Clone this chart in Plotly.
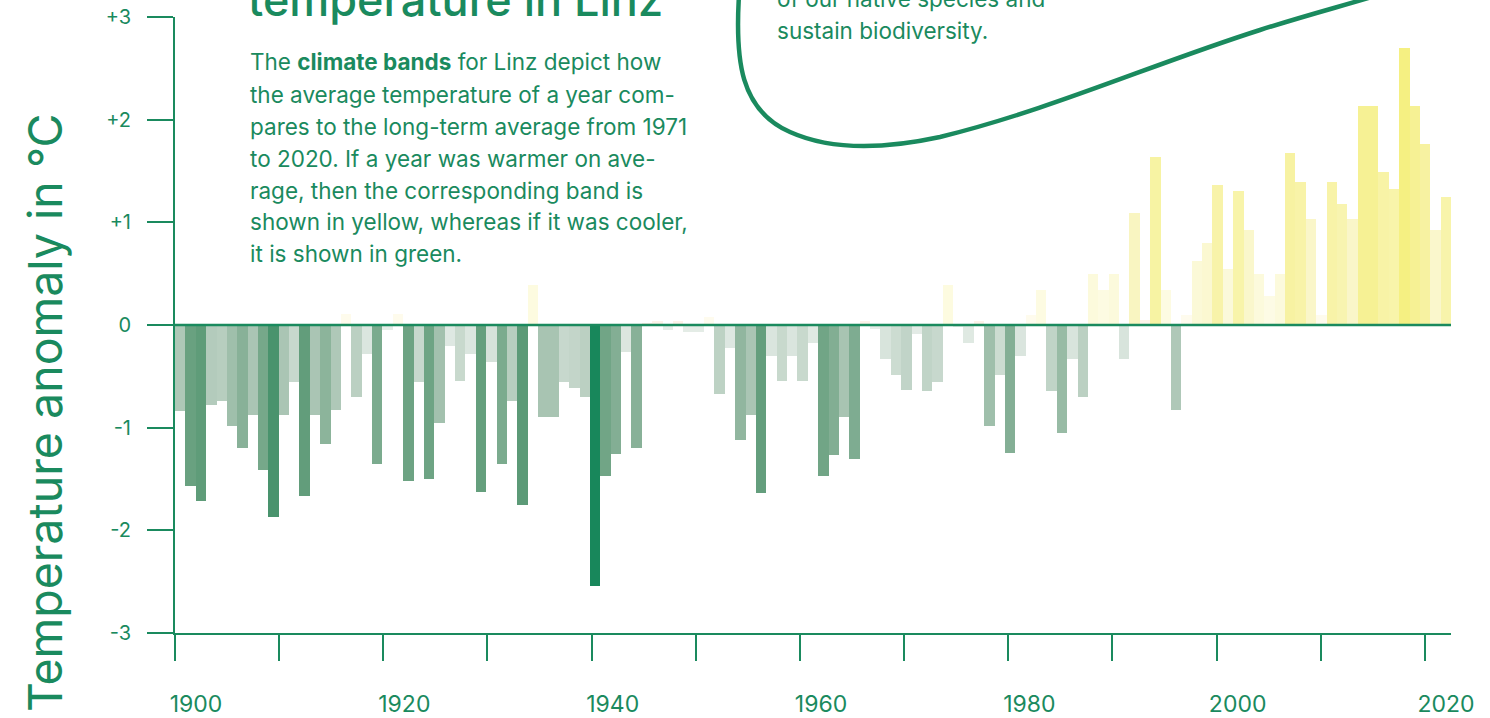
import plotly.graph_objects as go

# ---------------- data ----------------
years = list(range(1900, 2023))
anomaly = [
    -0.84, -1.57, -1.71, -0.78, -0.74, -0.98, -1.20, -0.88, -1.41, -1.87,   # 1900-1909
    -0.88, -0.56, -1.67, -0.88, -1.16, -0.83, 0.11, -0.70, -0.28, -1.35,    # 1910-1919
    -0.05, 0.11, -1.52, -0.56, -1.50, -0.95, -0.20, -0.55, -0.28, -1.63,    # 1920-1929
    -0.36, -1.35, -0.74, -1.75, 0.39, -0.90, -0.90, -0.56, -0.61, -0.70,    # 1930-1939
    -2.54, -1.47, -1.26, -0.26, -1.20, 0.02, 0.04, -0.05, 0.04, -0.07,      # 1940-1949
    -0.07, 0.08, -0.67, -0.22, -1.12, -0.88, -1.64, -0.30, -0.55, -0.30,    # 1950-1959
    -0.55, -0.18, -1.47, -1.27, -0.90, -1.31, 0.04, -0.04, -0.33, -0.49,    # 1960-1969
    -0.63, -0.09, -0.64, -0.56, 0.39, -0.02, -0.18, 0.04, -0.98, -0.49,     # 1970-1979
    -1.25, -0.30, 0.10, 0.34, -0.64, -1.05, -0.33, -0.70, 0.50, 0.34,       # 1980-1989
    0.50, -0.33, 1.09, 0.045, 1.64, 0.34, -0.83, 0.10, 0.62, 0.80,          # 1990-1999
    1.36, 0.55, 1.31, 0.93, 0.50, 0.28, 0.50, 1.68, 1.39, 1.03,             # 2000-2009
    0.10, 1.39, 1.18, 1.03, 2.13, 2.13, 1.49, 1.32, 2.70, 2.13,             # 2010-2019
    1.76, 0.93, 1.25,                                                        # 2020-2022
]
tick_years = list(range(1900, 2021, 10))
tick_labels = ["1900", "", "1920", "", "1940", "", "1960", "", "1980", "", "2000", "", "2020"]
y_ticks = [-3, -2, -1, 0, 1, 2, 3]
y_tick_labels = ["-3", "-2", "-1", "0", "+1", "+2", "+3"]

paragraph_lines = [
    "The <b>climate bands</b> for Linz depict how",
    "the average temperature of a year com-",
    "pares to the long-term average from 1971",
    "to 2020. If a year was warmer on ave-",
    "rage, then the corresponding band is",
    "shown in yellow, whereas if it was cooler,",
    "it is shown in green.",
]
bubble_lines = ["of our native species and", "sustain biodiversity."]
title_text = "temperature in Linz"
y_title = "Temperature anomaly in °C"

# ---------------- style ----------------
GREEN = "#1a8a5e"
FONT = "Inter"
W, H = 1490, 718
ML, MR, MT, MB = 175, 39, 17, 85
PW, PH = W - ML - MR, H - MT - MB

def px_x(px):
    return (px - ML) / PW

def px_y(py):
    return (H - MB - py) / PH

# diverging colour scale (value -> rgb)
cmin, cmax = -2.55, 2.70
stops = [
    (-2.55, (23, 135, 91)),
    (-1.90, (68, 145, 107)),
    (-1.75, (92, 154, 119)),
    (-1.50, (110, 164, 132)),
    (-1.20, (136, 177, 152)),
    (-0.90, (168, 196, 178)),
    (-0.60, (196, 214, 202)),
    (-0.30, (218, 229, 222)),
    (-0.001, (231, 238, 233)),
    (0.0, (251, 230, 226)),
    (0.07, (254, 251, 238)),
    (0.35, (253, 251, 226)),
    (0.60, (251, 249, 216)),
    (1.05, (250, 246, 200)),
    (1.20, (248, 244, 172)),
    (1.80, (247, 242, 160)),
    (2.13, (246, 241, 148)),
    (2.70, (245, 240, 130)),
]
colorscale = [[(v - cmin) / (cmax - cmin), "rgb(%d,%d,%d)" % c] for v, c in stops]

fig = go.Figure()
fig.add_trace(go.Bar(
    x=years, y=anomaly, width=1,
    marker=dict(color=anomaly, colorscale=colorscale, cmin=cmin, cmax=cmax,
                line=dict(width=0)),
    hoverinfo="x+y", showlegend=False,
))
# invisible trace carrying the linear year axis used for ticks
fig.add_trace(go.Scatter(
    x=[tick_years[0], tick_years[-1]], y=[-3, -3], xaxis="x2", yaxis="y",
    mode="markers", marker=dict(opacity=0), hoverinfo="skip", showlegend=False,
))

# bubble curve (pixel points converted to paper coords)
curve = [
    ("M", [(739, -5)]),
    ("C", [(735, 60), (740, 110), (790, 132)]),
    ("C", [(830, 150), (880, 150), (940, 137)]),
    ("C", [(1050, 110), (1150, 65), (1260, 30)]),
    ("C", [(1310, 14), (1350, 4), (1388, -8)]),
]
path = " ".join(cmd + " " + " ".join("%.5f,%.5f" % (px_x(a), px_y(b)) for a, b in pts)
                for cmd, pts in curve)

shapes = [
    dict(type="line", xref="paper", yref="y", x0=0, x1=1, y0=0, y1=0,
         line=dict(color=GREEN, width=2.5), layer="above"),
    dict(type="path", xref="paper", yref="paper", path=path,
         line=dict(color=GREEN, width=4.5), layer="above"),
]

TXT = 22.5
annotations = []
for i, line in enumerate(paragraph_lines):
    annotations.append(dict(
        xref="paper", yref="paper", x=px_x(249), y=px_y(62 + 32 * i),
        xanchor="left", yanchor="middle", text=line, showarrow=False,
        font=dict(family=FONT, size=TXT, color=GREEN), borderpad=0,
    ))
for i, line in enumerate(bubble_lines):
    annotations.append(dict(
        xref="paper", yref="paper", x=px_x(776), y=px_y(-1 + 32 * i),
        xanchor="left", yanchor="middle", text=line, showarrow=False,
        font=dict(family=FONT, size=TXT, color=GREEN), borderpad=0,
    ))
annotations.append(dict(
    xref="paper", yref="paper", x=px_x(247), y=px_y(28),
    xanchor="left", yanchor="bottom", text=title_text, showarrow=False,
    font=dict(family=FONT, size=45, color=GREEN, weight=500), borderpad=0,
))
annotations.append(dict(
    xref="paper", yref="paper", x=px_x(45), y=px_y(413),
    xanchor="center", yanchor="middle", text=y_title, textangle=-90,
    showarrow=False, font=dict(family=FONT, size=46.5, color=GREEN), borderpad=0,
))

fig.update_layout(
    width=W, height=H, autosize=False,
    margin=dict(l=ML, r=MR, t=MT, b=MB, pad=0, autoexpand=False),
    paper_bgcolor="white", plot_bgcolor="white",
    bargap=0, showlegend=False,
    font=dict(family=FONT, color=GREEN),
    xaxis=dict(range=[1899.5, 2022.5], showline=True, linecolor=GREEN, linewidth=2,
               ticks="", showticklabels=False, showgrid=False, zeroline=False,
               fixedrange=True, automargin=False),
    xaxis2=dict(overlaying="x", anchor="y", side="bottom",
                range=[1900, 2022.5], tickmode="array", tickvals=tick_years,
                ticktext=tick_labels,
                ticks="outside", ticklen=27, tickwidth=2, tickcolor=GREEN,
                ticklabelshift=21, ticklabelstandoff=23,
                tickfont=dict(family=FONT, size=23, color=GREEN),
                showline=False, showgrid=False, zeroline=False, fixedrange=True,
                automargin=False),
    yaxis=dict(range=[-3, 3], tickmode="array", tickvals=y_ticks, ticktext=y_tick_labels,
               ticks="outside", ticklen=26, tickwidth=2, tickcolor=GREEN,
               showline=True, linecolor=GREEN, linewidth=2,
               showgrid=False, zeroline=False, layer="above traces",
               ticklabelstandoff=12, automargin=False,
               tickfont=dict(family=FONT, size=20, color=GREEN), fixedrange=True),
    shapes=shapes,
    annotations=annotations,
)

fig.write_html("out.html", config={"displayModeBar": False},
               post_script="document.body.style.margin='0';")
